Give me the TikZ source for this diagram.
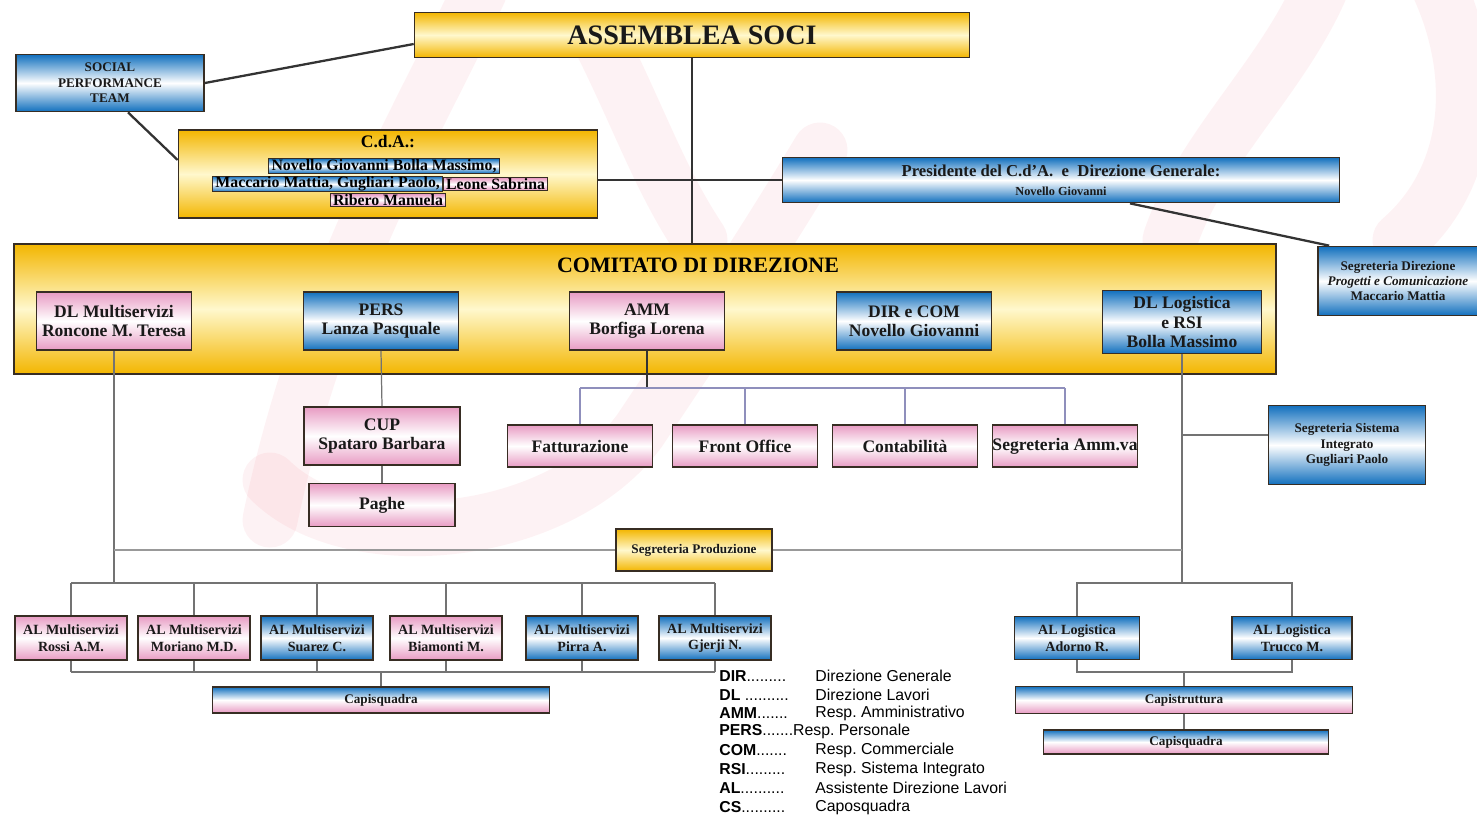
\documentclass[tikz,border=0pt]{standalone}
\usepackage{fontspec}
\setmainfont{Liberation Serif}
\newfontfamily\legfont{Liberation Sans}
\usetikzlibrary{positioning}
\frenchspacing

\definecolor{gold}{RGB}{243,182,0}
\definecolor{paleyel}{RGB}{255,248,205}
\definecolor{boxblue}{RGB}{18,112,190}
\definecolor{boxpink}{RGB}{232,155,195}
\definecolor{wmpink}{RGB}{235,90,110}
\definecolor{edge}{RGB}{55,45,35}

\tikzset{
  box/.style={draw=edge, line width=1pt, align=center, inner sep=2pt,
    font=\bfseries\fontsize{10}{11}\selectfont, text=black!90},
  yelbox/.style={box, top color=gold, bottom color=gold, middle color=paleyel},
  bluebox/.style={box, top color=boxblue, bottom color=boxblue, middle color=white},
  pinkbox/.style={box, top color=boxpink, bottom color=boxpink, middle color=white},
  mixbox/.style={box, top color=boxblue, bottom color=boxpink, middle color=white,
    font=\bfseries\fontsize{7.5}{8.5}\selectfont},
  namebox/.style={draw=edge, line width=0.6pt, inner xsep=1.5pt, inner ysep=0.3pt,
    font=\bfseries\fontsize{9}{10}\selectfont},
  nameblue/.style={namebox, top color=boxblue, bottom color=boxblue, middle color=white},
  namepink/.style={namebox, top color=boxpink, bottom color=boxpink, middle color=white},
  albox/.style={minimum width=2.24cm, minimum height=0.88cm,
    font=\bfseries\fontsize{8}{9.5}\selectfont},
  mainln/.style={draw=black!80, line width=1.3pt},
  conn/.style={draw=black!55, line width=0.7pt},
  ammln/.style={draw=blue!25!gray!70, line width=0.9pt},
  wm/.style={draw=wmpink, opacity=0.08, line width=1.1cm, line cap=round},
  legab/.style={anchor=west, inner sep=0pt, font=\legfont\fontsize{9}{10}\selectfont},
}

\begin{document}
\begin{tikzpicture}[x=0.02cm, y=-0.02cm]
  \useasboundingbox (0,0) rectangle (1477,816);

  % watermark
  \draw[wm] (480,-10) .. controls (420,120) and (320,280) .. (270,520);
  \draw[wm] (270,480) .. controls (350,560) and (560,540) .. (640,430)
                      .. controls (700,340) and (760,250) .. (820,150);
  \draw[wm] (600,40) .. controls (640,120) and (660,180) .. (700,240);
  \draw[wm] (1320,-10) .. controls (1280,80) and (1200,150) .. (1170,240);
  \draw[wm] (1440,-10) .. controls (1480,80) and (1470,180) .. (1400,240);

  % top level
  \node[yelbox, minimum width=11.1cm, minimum height=0.9cm,
        font=\bfseries\fontsize{16}{18}\selectfont] (assemblea) at (692,35) {ASSEMBLEA SOCI};
  \node[bluebox, minimum width=3.76cm, minimum height=1.14cm,
        font=\bfseries\fontsize{7.5}{8.8}\selectfont] (spt) at (110,83) {SOCIAL\\PERFORMANCE\\TEAM};
  \node[yelbox, minimum width=8.38cm, minimum height=1.76cm] (cda) at (388,174) {};
  \node[font=\bfseries\fontsize{10}{11}\selectfont] (cdatitle) at (388,142) {C.d.A.:};
  \node[nameblue] (cda1) at (384,166) {Novello Giovanni Bolla Massimo,};
  \node[nameblue, anchor=east] (cda2a) at (443,184) {Maccario Mattia, Gugliari Paolo,};
  \node[namepink, right=0pt of cda2a] (cda2b) {Leone Sabrina};
  \node[namepink] (cda3) at (388,200) {Ribero Manuela};
  \node[bluebox, minimum width=11.14cm, minimum height=0.9cm, font=\bfseries] (pres) at (1061,180)
    {{\fontsize{9.5}{10}\selectfont Presidente del C.d'A.~~e~~Direzione Generale:}\\[-1pt]
     {\fontsize{7}{8}\selectfont Novello Giovanni}};
  \node[bluebox, minimum width=3.2cm, minimum height=1.38cm,
        font=\bfseries\fontsize{7.5}{8.8}\selectfont] (segdir) at (1398,281)
    {Segreteria Direzione\\\textit{Progetti e Comunicazione}\\Maccario Mattia};

  % comitato
  \node[yelbox, minimum width=25.24cm, minimum height=2.6cm] (comitato) at (645,309) {};
  \node[font=\bfseries\fontsize{12.5}{14}\selectfont] (comtitle) at (698,265) {COMITATO DI DIREZIONE};
  \node[pinkbox, minimum width=3.1cm, minimum height=1.16cm] (dlmulti) at (114,321) {DL Multiservizi\\Roncone M. Teresa};
  \node[bluebox, minimum width=3.1cm, minimum height=1.16cm] (pers) at (381,321) {PERS\\Lanza Pasquale};
  \node[pinkbox, minimum width=3.1cm, minimum height=1.16cm] (amm) at (647,321) {AMM\\Borfiga Lorena};
  \node[bluebox, minimum width=3.1cm, minimum height=1.16cm] (dircom) at (914,321) {DIR e COM\\Novello Giovanni};
  \node[bluebox, minimum width=3.18cm, minimum height=1.26cm] (dllog) at (1182,322) {DL Logistica\\e RSI\\Bolla Massimo};

  % offices
  \node[pinkbox, minimum width=3.12cm, minimum height=1.16cm] (cup) at (382,436) {CUP\\Spataro Barbara};
  \node[pinkbox, minimum width=2.92cm, minimum height=0.86cm] (paghe) at (382,505) {Paghe};
  \node[pinkbox, minimum width=2.9cm, minimum height=0.84cm] (fatt) at (580,446) {Fatturazione};
  \node[pinkbox, minimum width=2.9cm, minimum height=0.84cm] (front) at (745,446) {Front Office};
  \node[pinkbox, minimum width=2.9cm, minimum height=0.84cm] (conta) at (905,446) {Contabilità};
  \node[pinkbox, minimum width=2.9cm, minimum height=0.84cm, inner sep=0pt] (segamm) at (1065,446) {Segreteria Amm.va};
  \node[bluebox, minimum width=3.14cm, minimum height=1.58cm,
        font=\bfseries\fontsize{7.5}{9}\selectfont] (segsi) at (1347,445) {Segreteria Sistema\\Integrato\\Gugliari Paolo};
  \node[yelbox, minimum width=3.12cm, minimum height=0.84cm,
        font=\bfseries\fontsize{7.5}{8.5}\selectfont] (segprod) at (694,550) {Segreteria Produzione};

  % assistenti
  \foreach \i/\x/\c/\nm in {1/71/pinkbox/Rossi A.M., 2/194/pinkbox/Moriano M.D.,
      3/317/bluebox/Suarez C., 4/446/pinkbox/Biamonti M., 5/582/bluebox/Pirra A.,
      6/715/bluebox/Gjerji N.}
    \node[\c, albox] (al\i) at (\x,638) {AL Multiservizi\\\nm};
  \node[mixbox, minimum width=6.74cm, minimum height=0.52cm] (capisqL) at (381,700) {Capisquadra};
  \node[bluebox, albox, minimum width=2.5cm, minimum height=0.86cm] (allog1) at (1077,638) {AL Logistica\\Adorno R.};
  \node[bluebox, albox, minimum width=2.4cm, minimum height=0.86cm] (allog2) at (1292,638) {AL Logistica\\Trucco M.};
  \node[mixbox, minimum width=6.74cm, minimum height=0.54cm] (capistr) at (1184,700) {Capistruttura};
  \node[mixbox, minimum width=5.7cm, minimum height=0.48cm] (capisqR) at (1186,742) {Capisquadra};

  % bus levels
  \coordinate (busM) at (0,388);
  \coordinate (busS) at (0,435);
  \coordinate (busA) at (0,583);
  \coordinate (busB) at (0,672);

  % connectors
  \draw[mainln] (spt.east) -- ([yshift=-0.18cm]assemblea.west);
  \draw[mainln] ([xshift=0.36cm]spt.south) -- ([yshift=0.28cm]cda.west);
  \draw[mainln] (assemblea.south) -- (assemblea.south |- comitato.north);
  \draw[mainln] (cda.east |- pres.west) -- (pres.west);
  \draw[mainln] ([xshift=1.38cm]pres.south) -- ([xshift=0.24cm]segdir.north west);

  \draw[conn] (pers.south) -- (cup.north);
  \draw[conn] (cup.south) -- (paghe.north);
  \draw[mainln, line width=0.8pt] (amm.south) -- (amm.south |- busM);
  \draw[ammln] (fatt.north |- busM) -- (segamm.north |- busM);
  \foreach \n in {fatt,front,conta,segamm}
    \draw[ammln] (\n.north) -- (\n.north |- busM);

  \draw[conn] (dlmulti.south) -- (dlmulti.south |- busA);
  \draw[conn] (dllog.south) -- (dllog.south |- busA);
  \draw[conn] (dllog.south |- busS) -- (segsi.west |- busS);
  \draw[conn, draw=black!40, line width=1pt] (dlmulti.south |- segprod.west) -- (segprod.west);
  \draw[conn, draw=black!40, line width=1pt] (segprod.east) -- (dllog.south |- segprod.east);

  \draw[conn] (al1.north |- busA) -- (al6.north |- busA);
  \draw[conn] (al1.south |- busB) -- (al6.south |- busB);
  \foreach \i in {1,...,6} {
    \draw[conn] (al\i.north) -- (al\i.north |- busA);
    \draw[conn] (al\i.south) -- (al\i.south |- busB);
  }
  \draw[conn] (capisqL.north |- busB) -- (capisqL.north);

  \draw[conn] (allog1.north) -- (allog1.north |- busA) -- (allog2.north |- busA) -- (allog2.north);
  \draw[conn] (allog1.south) -- (allog1.south |- busB) -- (allog2.south |- busB) -- (allog2.south);
  \draw[conn] (capistr.north |- busB) -- (capistr.north);
  \draw[conn] (capistr.south) -- (capistr.south |- capisqR.north);

  % legenda
  \node[legab] (lgDIR)  at (719,676) {\textbf{DIR}.........};
  \node[legab] (lgDIRt) at (815,676) {Direzione Generale};
  \node[legab] (lgDL)   at (719,695) {\textbf{DL} ..........};
  \node[legab] (lgDLt)  at (815,695) {Direzione Lavori};
  \node[legab] (lgAMM)  at (719,713) {\textbf{AMM}.......};
  \node[legab] (lgAMMt) at (815,713) {Resp. Amministrativo};
  \node[legab] (lgPERS) at (719,731) {\textbf{PERS}.......Resp. Personale};
  \node[legab] (lgCOM)  at (719,750) {\textbf{COM}.......};
  \node[legab] (lgCOMt) at (815,750) {Resp. Commerciale};
  \node[legab] (lgRSI)  at (719,769) {\textbf{RSI}.........};
  \node[legab] (lgRSIt) at (815,769) {Resp. Sistema Integrato};
  \node[legab] (lgAL)   at (719,788) {\textbf{AL}..........};
  \node[legab] (lgALt)  at (815,788) {Assistente Direzione Lavori};
  \node[legab] (lgCS)   at (719,807) {\textbf{CS}..........};
  \node[legab] (lgCSt)  at (815,807) {Caposquadra};
\end{tikzpicture}
\end{document}
